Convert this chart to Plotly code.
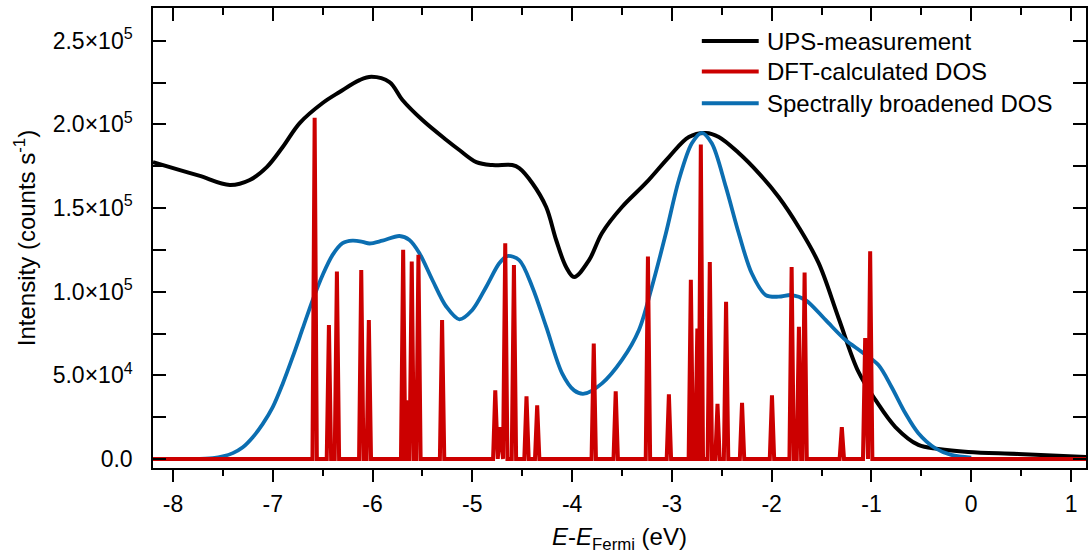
import plotly.graph_objects as go

# --- UPS measurement (energy in eV, intensity in counts/s) ---
ups_energy = [-8.20, -7.93, -7.73, -7.43, -7.23, -7.06, -6.90, -6.73, -6.50, -6.33,
              -6.13, -6.01, -5.83, -5.70, -5.50, -5.26, -5.13, -4.96, -4.80, -4.60,
              -4.53, -4.40, -4.26, -4.16, -4.06, -3.98, -3.83, -3.70, -3.50, -3.26,
              -3.03, -2.83, -2.66, -2.53, -2.33, -2.13, -1.93, -1.73, -1.53, -1.33,
              -1.13, -0.96, -0.76, -0.53, -0.33, -0.03, 0.47, 1.15]
ups_counts = [1.775e5, 1.727e5, 1.692e5, 1.638e5, 1.668e5, 1.745e5, 1.865e5, 2.008e5, 2.128e5, 2.194e5,
              2.265e5, 2.285e5, 2.253e5, 2.146e5, 2.026e5, 1.907e5, 1.847e5, 1.775e5, 1.757e5, 1.757e5,
              1.739e5, 1.650e5, 1.506e5, 1.309e5, 1.148e5, 1.088e5, 1.189e5, 1.351e5, 1.506e5, 1.650e5,
              1.805e5, 1.925e5, 1.949e5, 1.925e5, 1.829e5, 1.709e5, 1.566e5, 1.387e5, 1.172e5, 0.843e5,
              0.520e5, 0.353e5, 0.191e5, 0.084e5, 0.060e5, 0.042e5, 0.030e5, 0.012e5]

# --- DFT-calculated DOS: state energies and peak intensities ---
dft_energy = [-6.580, -6.437, -6.357, -6.113, -6.037, -5.693, -5.663, -5.607, -5.540, -5.303,
              -4.770, -4.723, -4.670, -4.583, -4.457, -4.350, -3.783, -3.563, -3.240, -3.030,
              -2.810, -2.777, -2.745, -2.710, -2.620, -2.543, -2.457, -2.297, -1.997, -1.800,
              -1.727, -1.670, -1.297, -1.063, -1.013]
dft_counts = [2.04e5, 0.80e5, 1.12e5, 1.13e5, 0.83e5, 1.25e5, 0.35e5, 1.18e5, 1.22e5, 0.83e5,
              0.41e5, 0.19e5, 1.29e5, 1.16e5, 0.375e5, 0.32e5, 0.69e5, 0.405e5, 1.21e5, 0.387e5,
              1.072e5, 0.39e5, 0.78e5, 1.88e5, 1.178e5, 0.33e5, 0.94e5, 0.335e5, 0.38e5, 1.148e5,
              0.79e5, 1.114e5, 0.19e5, 0.723e5, 1.241e5]

# --- Spectrally broadened DOS ---
broad_energy = [-8.20, -7.80, -7.60, -7.50, -7.40, -7.30, -7.20, -7.10, -7.00, -6.90,
                -6.80, -6.70, -6.60, -6.50, -6.40, -6.30, -6.20, -6.10, -6.03, -5.90,
                -5.73, -5.63, -5.53, -5.40, -5.26, -5.13, -5.00, -4.86, -4.73, -4.65,
                -4.53, -4.40, -4.26, -4.10, -3.98, -3.88, -3.70, -3.50, -3.33, -3.20,
                -3.06, -2.93, -2.80, -2.70, -2.60, -2.46, -2.33, -2.20, -2.06, -1.93,
                -1.80, -1.66, -1.46, -1.26, -1.10, -0.93, -0.80, -0.66, -0.53, -0.36,
                -0.20, 0.00]
broad_counts = [0.0, 0.0, 0.005e5, 0.015e5, 0.035e5, 0.07e5, 0.13e5, 0.21e5, 0.31e5, 0.45e5,
                0.61e5, 0.78e5, 0.95e5, 1.10e5, 1.22e5, 1.29e5, 1.305e5, 1.298e5, 1.288e5, 1.305e5,
                1.333e5, 1.309e5, 1.230e5, 1.070e5, 0.910e5, 0.835e5, 0.891e5, 1.030e5, 1.170e5, 1.213e5,
                1.189e5, 1.030e5, 0.791e5, 0.512e5, 0.410e5, 0.390e5, 0.452e5, 0.592e5, 0.771e5, 1.030e5,
                1.349e5, 1.668e5, 1.887e5, 1.950e5, 1.887e5, 1.628e5, 1.349e5, 1.110e5, 0.980e5, 0.970e5,
                0.980e5, 0.950e5, 0.831e5, 0.711e5, 0.641e5, 0.562e5, 0.432e5, 0.273e5, 0.154e5, 0.064e5,
                0.024e5, 0.008e5]

# --- axes ---
x_range = [-8.2, 1.15]
y_range = [-5400, 269600]
x_tick_vals = [-8, -7, -6, -5, -4, -3, -2, -1, 0, 1]
x_tick_text = ["-8", "-7", "-6", "-5", "-4", "-3", "-2", "-1", "0", "1"]
y_tick_vals = [0, 50000, 100000, 150000, 200000, 250000]
y_tick_text = ["0.0", "5.0×10<sup>4</sup>", "1.0×10<sup>5</sup>", "1.5×10<sup>5</sup>",
               "2.0×10<sup>5</sup>", "2.5×10<sup>5</sup>"]

series_names = ["UPS-measurement", "DFT-calculated DOS", "Spectrally broadened DOS"]
series_colors = ["#000000", "#CC0000", "#0B6EB1"]

FONT = "Liberation Sans, Arial, sans-serif"
PEAK_HALF_WIDTH = 0.022  # eV, half base width of each calculated state

# Build the stick-like DOS trace: each state is a narrow peak on a zero baseline
dos_x = [x_range[0]]
dos_y = [0.0]
for e, h in sorted(zip(dft_energy, dft_counts)):
    dos_x += [e - PEAK_HALF_WIDTH, e, e + PEAK_HALF_WIDTH]
    dos_y += [0.0, h, 0.0]
dos_x.append(x_range[1])
dos_y.append(0.0)

fig = go.Figure()
fig.add_trace(go.Scatter(x=ups_energy, y=ups_counts, mode="lines", name=series_names[0],
                         line=dict(color=series_colors[0], width=4, shape="spline", smoothing=1.0)))
fig.add_trace(go.Scatter(x=broad_energy, y=broad_counts, mode="lines", name=series_names[2],
                         line=dict(color=series_colors[2], width=3.8, shape="spline", smoothing=0.9)))
fig.add_trace(go.Scatter(x=dos_x, y=dos_y, mode="lines", name=series_names[1],
                         line=dict(color=series_colors[1], width=4)))
# placeholder trace so the top frame axis is drawn
fig.add_trace(go.Scatter(x=[x_range[0]], y=[y_range[0]], xaxis="x2", mode="markers",
                         marker=dict(opacity=0), hoverinfo="skip", showlegend=False))

axis_common = dict(showline=True, linecolor="black", linewidth=1.5, showgrid=False,
                   zeroline=False, tickcolor="black", tickwidth=1.5,
                   tickfont=dict(family=FONT, size=23, color="black"))

fig.update_layout(
    width=1089, height=559,
    margin=dict(l=153, r=1, t=8, b=91),
    plot_bgcolor="white", paper_bgcolor="white",
    showlegend=False,
    font=dict(family=FONT, color="black"),
    xaxis=dict(range=x_range, tickmode="array", tickvals=x_tick_vals, ticktext=x_tick_text,
               ticks="outside", ticklen=12, mirror=True, ticklabelstandoff=3,
               minor=dict(tickmode="linear", tick0=0, dtick=0.5, ticks="outside", ticklen=6,
                          tickcolor="black", tickwidth=1.5),
               title=dict(text="<i>E</i>-<i>E</i><sub>Fermi</sub> (eV)",
                          font=dict(family=FONT, size=24), standoff=12),
               **axis_common),
    xaxis2=dict(range=x_range, overlaying="x", side="top", anchor="y", matches="x",
                tickmode="array", tickvals=x_tick_vals, showticklabels=False,
                ticks="inside", ticklen=13,
                minor=dict(tickmode="linear", tick0=0, dtick=0.5, ticks="inside", ticklen=7,
                           tickcolor="black", tickwidth=1.5),
                **axis_common),
    yaxis=dict(range=y_range, tickmode="array", tickvals=y_tick_vals, ticktext=y_tick_text,
               ticks="inside", ticklen=13, mirror="allticks", ticklabelstandoff=14,
               minor=dict(tickmode="linear", tick0=0, dtick=25000, ticks="inside", ticklen=7,
                          tickcolor="black", tickwidth=1.5),
               title=dict(text="Intensity (counts s<sup>-1</sup>)",
                          font=dict(family=FONT, size=24), standoff=10),
               **axis_common),
)

# Legend drawn as line samples with labels in the upper right
legend_rows = [(0.928, 0), (0.862, 1), (0.793, 2)]
for ypos, idx in legend_rows:
    fig.add_shape(type="line", xref="paper", yref="paper",
                  x0=(703 - 153) / 935, x1=(760 - 153) / 935, y0=ypos, y1=ypos,
                  line=dict(color=series_colors[idx], width=4))
    fig.add_annotation(xref="paper", yref="paper", x=(766 - 153) / 935, y=ypos,
                       text=series_names[idx], showarrow=False, xanchor="left", yanchor="middle",
                       font=dict(family=FONT, size=24, color="black"))

fig.write_html("out.html")
